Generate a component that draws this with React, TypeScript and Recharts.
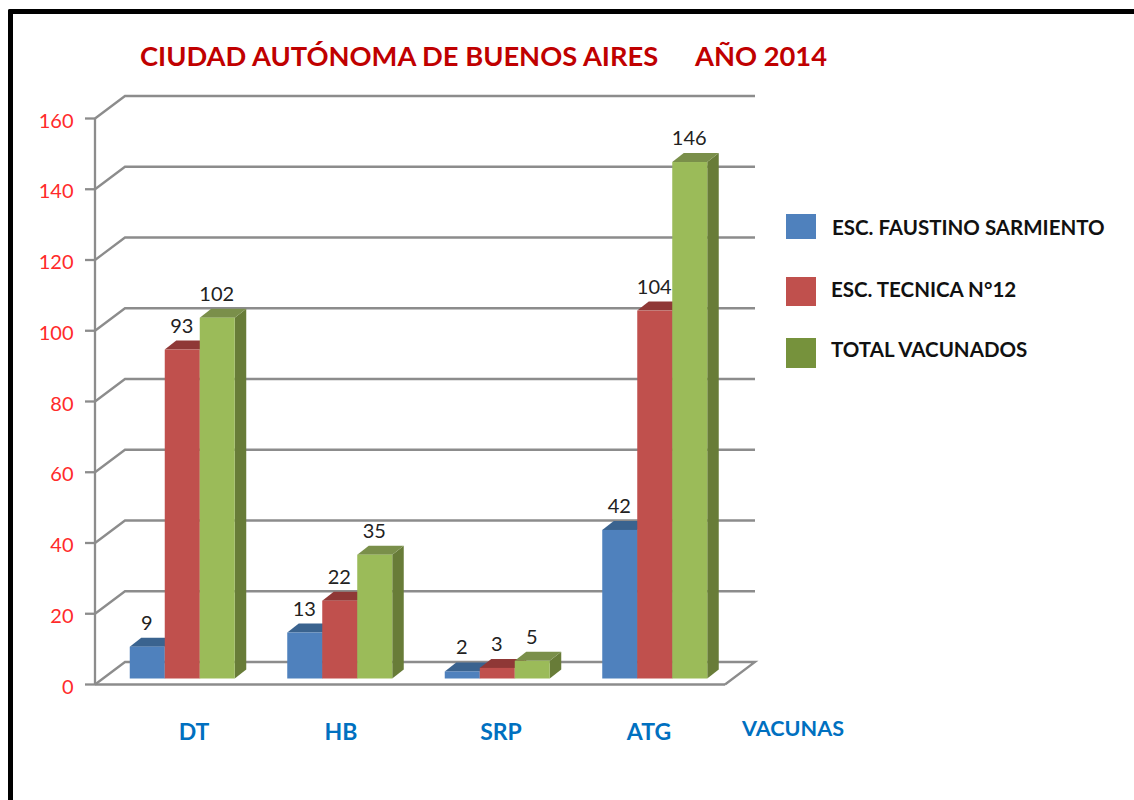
import React from 'react';
import { BarChart, Bar, XAxis, YAxis, CartesianGrid, LabelList, Legend } from 'recharts';

const categories = ['DT', 'HB', 'SRP', 'ATG'];
const faustino = [9, 13, 2, 42];
const tecnica = [93, 22, 3, 104];
const total = [102, 35, 5, 146];
const yTicks = [0, 20, 40, 60, 80, 100, 120, 140, 160];
const seriesNames = ['ESC. FAUSTINO SARMIENTO', 'ESC. TECNICA N°12', 'TOTAL VACUNADOS'];
const titleLeft = 'CIUDAD AUTÓNOMA DE BUENOS AIRES';
const titleRight = 'AÑO 2014';
const xAxisName = 'VACUNAS';

const data = categories.map((name, i) => ({
  name,
  faustino: faustino[i],
  tecnica: tecnica[i],
  total: total[i],
}));

const FONT = 'Lato, Carlito, sans-serif';
const W = 1134;
const H = 800;
const PLOT_LEFT = 95;
const PLOT_RIGHT = 725;
const PLOT_TOP = 118.5;
const PLOT_BOTTOM = 684.5;
const WALL_DX = 30;
const WALL_DY = 22.5;
const BAR_DX = 8.75;
const BAR_DY = 6;
const DEPTH_X = 11.5;
const DEPTH_Y = 9;
const GRID = '#8c8c8c';

const wallLine = (props: any) => {
  const { x1, y1, x2, key } = props;
  const isFloor = Math.abs(y1 - PLOT_BOTTOM) < 1;
  const by = y1 - WALL_DY;
  const d = isFloor
    ? `M${x1},${y1} L${x1 + WALL_DX},${by} L${x2 + WALL_DX},${by} L${x2},${y1}`
    : `M${x1},${y1} L${x1 + WALL_DX},${by} L${x2 + WALL_DX},${by}`;
  return <path key={key} d={d} fill="none" stroke={GRID} strokeWidth={2.3} />;
};

const bar3d = (front: string, top: string, side: string) => (props: any) => {
  const { x, y, width, height } = props;
  const l = x + BAR_DX;
  const r = l + width;
  const t = y - BAR_DY;
  const b = t + height;
  return (
    <g>
      <path d={`M${r},${t} L${r + DEPTH_X},${t - DEPTH_Y} L${r + DEPTH_X},${b - DEPTH_Y} L${r},${b} Z`} fill={side} />
      <path d={`M${l},${t} L${l + DEPTH_X},${t - DEPTH_Y} L${r + DEPTH_X},${t - DEPTH_Y} L${r},${t} Z`} fill={top} />
      <rect x={l} y={t} width={width} height={height} fill={front} />
    </g>
  );
};

const valueLabel = (props: any) => {
  const { x, y, width, value } = props;
  return (
    <text
      x={x + width / 2 + BAR_DX - 0.5}
      y={y - BAR_DY - 17}
      textAnchor="middle"
      fontFamily={FONT}
      fontSize={20}
      fill="#222222"
    >
      {value}
    </text>
  );
};

const xTickCenters: Record<string, number> = { DT: 194, HB: 341, SRP: 501, ATG: 649 };

const xTick = (props: any) => {
  const v = props.payload.value;
  return (
    <text x={xTickCenters[v]} y={740} textAnchor="middle" fontFamily={FONT} fontWeight={700} fontSize={23} fill="#0070c0">
      {v}
    </text>
  );
};

const yTick = (props: any) => {
  const { x, y, payload } = props;
  return (
    <text x={x - 1.5} y={y + 9} textAnchor="end" fontFamily={FONT} fontSize={20} fill="#ff2a2a">
      {payload.value}
    </text>
  );
};

const legendColors = ['#4f81bd', '#c0504d', '#76923c'];
const legendTop = [213.5, 277, 338];
const legendH = [25.5, 29, 30];
const legendTextX = [832, 831, 831];
const legendTextY = [227, 289, 349];

const legendContent = () => (
  <div style={{ position: 'relative', width: 0, height: 0 }}>
    {seriesNames.map((n, i) => (
      <React.Fragment key={n}>
        <div
          style={{
            position: 'absolute',
            left: 786,
            top: legendTop[i],
            width: 30,
            height: legendH[i],
            background: legendColors[i],
          }}
        />
        <div
          style={{
            position: 'absolute',
            left: legendTextX[i],
            top: legendTextY[i] - 14,
            height: 28,
            lineHeight: '28px',
            fontFamily: FONT,
            fontWeight: 700,
            fontSize: 20.5,
            color: '#111111',
            whiteSpace: 'nowrap',
          }}
        >
          {n}
        </div>
      </React.Fragment>
    ))}
  </div>
);

const titleStyle: React.CSSProperties = {
  position: 'absolute',
  top: 38,
  lineHeight: '36px',
  fontFamily: FONT,
  fontWeight: 700,
  fontSize: 27.3,
  color: '#c00000',
  whiteSpace: 'nowrap',
};

export default function App() {
  return (
    <div style={{ position: 'absolute', left: 0, top: 0, width: W, height: H, overflow: 'hidden', background: '#fff' }}>
      <div
        style={{
          position: 'absolute',
          left: 8,
          top: 9,
          width: W,
          height: H,
          borderTop: '5px solid #000',
          borderLeft: '5px solid #000',
          borderTopLeftRadius: 2,
        }}
      />
      <div style={{ ...titleStyle, left: 140 }}>{titleLeft}</div>
      <div style={{ ...titleStyle, left: 695 }}>{titleRight}</div>
      <BarChart
        width={W}
        height={H}
        data={data}
        barSize={35}
        barGap={0}
        margin={{ top: PLOT_TOP, left: 0, right: W - PLOT_RIGHT, bottom: 55.5 }}
        style={{ position: 'absolute', left: 0, top: 0 }}
      >
        <CartesianGrid vertical={false} horizontal={wallLine} />
        <XAxis
          dataKey="name"
          height={60}
          tickLine={false}
          axisLine={{ stroke: GRID, strokeWidth: 2.3 }}
          tick={xTick}
          interval={0}
          label={{
            value: xAxisName,
            content: () => (
              <text x={742} y={736} fontFamily={FONT} fontWeight={700} fontSize={21.6} fill="#0070c0">
                {xAxisName}
              </text>
            ),
          }}
        />
        <YAxis
          width={PLOT_LEFT}
          domain={[0, 160]}
          ticks={yTicks}
          interval={0}
          tickSize={10}
          tickMargin={10}
          axisLine={{ stroke: GRID, strokeWidth: 2.3 }}
          tickLine={{ stroke: GRID, strokeWidth: 2.3 }}
          tick={yTick}
        />
        <Legend
          content={legendContent}
          wrapperStyle={{ position: 'absolute', left: 0, top: 0, width: 0, height: 0, pointerEvents: 'none' }}
        />
        <Bar dataKey="faustino" name={seriesNames[0]} fill="#4f81bd" isAnimationActive={false} shape={bar3d('#4f81bd', '#3a638f', '#3a5f8b')}>
          <LabelList dataKey="faustino" content={valueLabel} />
        </Bar>
        <Bar dataKey="tecnica" name={seriesNames[1]} fill="#c0504d" isAnimationActive={false} shape={bar3d('#c0504d', '#8f3836', '#8f3836')}>
          <LabelList dataKey="tecnica" content={valueLabel} />
        </Bar>
        <Bar dataKey="total" name={seriesNames[2]} fill="#9bbb59" isAnimationActive={false} shape={bar3d('#9bbb59', '#7a8f4a', '#687c38')}>
          <LabelList dataKey="total" content={valueLabel} />
        </Bar>
      </BarChart>
    </div>
  );
}
